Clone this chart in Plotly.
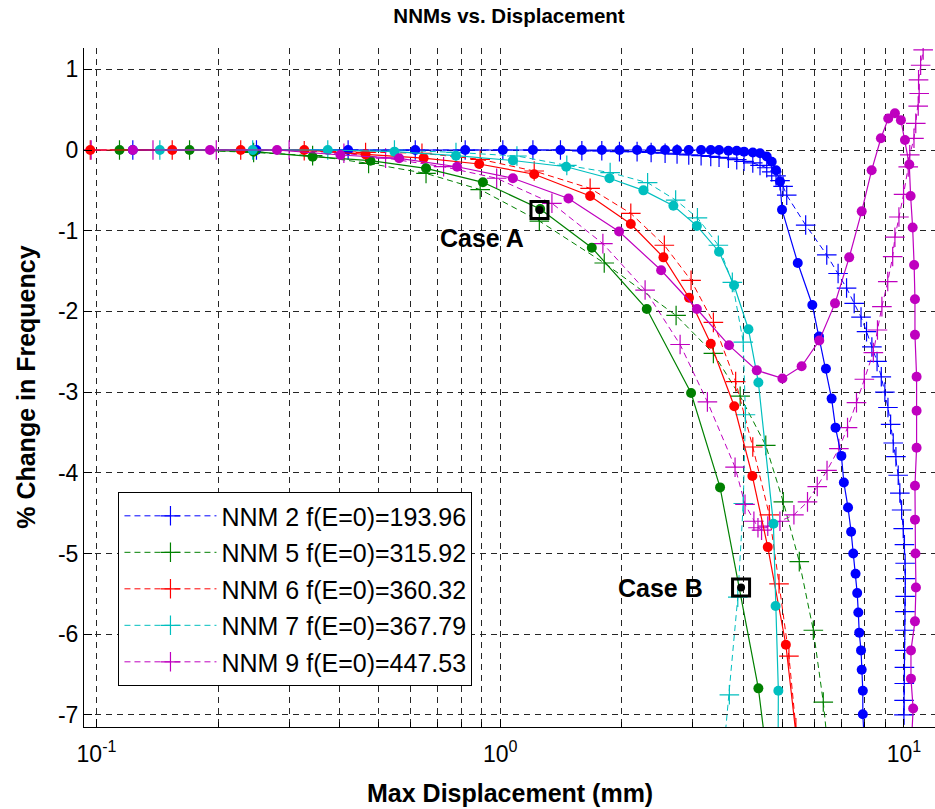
import math
import plotly.graph_objects as go

# ---------------- data ----------------
# NNM 2 (blue)
nnm2_dash_x = [0.123, 0.249, 0.42, 0.616, 0.819, 1.015, 1.205, 1.41, 1.593, 1.785, 1.974, 2.183, 2.365, 2.561,
               2.742, 2.931, 3.145, 3.323, 3.484, 3.674, 3.854, 4.018, 4.223, 4.401, 4.573, 4.705, 4.822, 4.933,
               5.02, 5.125, 5.71, 6.44, 6.87, 7.21, 7.53, 7.83, 8.08, 8.33, 8.58, 8.79, 8.97, 9.13, 9.27, 9.41,
               9.555, 9.68, 9.77, 9.87, 9.96, 10.03, 10.07, 10.08, 10.07, 10.06, 10.05, 10.04, 10.03, 10.02,
               10.01, 10.0, 9.99]
nnm2_dash_y = [0, 0, 0, 0, 0, 0, 0, 0, -0.01, -0.01, -0.02, -0.02, -0.03, -0.04, -0.05, -0.06, -0.07, -0.08,
               -0.09, -0.10, -0.12, -0.14, -0.16, -0.19, -0.22, -0.27, -0.32, -0.38, -0.45, -0.56, -0.93, -1.30,
               -1.53, -1.71, -1.90, -2.07, -2.25, -2.44, -2.62, -2.81, -3.0, -3.19, -3.40, -3.63, -3.80, -4.03,
               -4.25, -4.46, -4.69, -4.89, -5.12, -5.31, -5.53, -5.72, -5.95, -6.20, -6.41, -6.61, -6.82, -7.0,
               -7.3]
nnm2_solid_x = [0.123, 0.249, 0.42, 0.616, 0.819, 1.015, 1.205, 1.41, 1.593, 1.785, 1.974, 2.183, 2.365, 2.561,
                2.742, 2.931, 3.145, 3.323, 3.484, 3.674, 3.854, 4.018, 4.223, 4.401, 4.573, 4.705, 4.822, 4.933,
                4.989, 5.458, 5.93, 6.16, 6.41, 6.62, 6.77, 7.0, 7.1, 7.27, 7.40, 7.49, 7.59, 7.66, 7.71, 7.75,
                7.83, 7.86, 7.91, 7.91, 7.97]
nnm2_solid_y = [0, 0, 0, 0, 0, 0, 0, 0, 0, 0, 0, 0, 0, 0, 0, 0, 0, 0, 0, -0.01, -0.01, -0.02, -0.03, -0.04,
                -0.08, -0.145, -0.25, -0.39, -0.74, -1.40, -1.92, -2.31, -2.71, -3.08, -3.44, -3.79, -4.12,
                -4.43, -4.73, -5.0, -5.25, -5.49, -5.73, -5.98, -6.20, -6.44, -6.70, -6.99, -7.3]

# NNM 5 (green)
nnm5_dash_x = [0.114, 0.17, 0.245, 0.343, 0.472, 0.655, 0.892, 1.25, 1.81, 2.727, 3.373, 3.93, 4.548, 5.026,
               5.506, 5.965, 6.313, 6.45]
nnm5_dash_y = [0, 0, -0.03, -0.07, -0.165, -0.29, -0.49, -0.88, -1.40, -2.05, -2.52, -3.05, -3.66, -4.36, -5.10,
               -5.95, -6.84, -7.3]
nnm5_solid_x = [0.114, 0.17, 0.245, 0.343, 0.477, 0.655, 0.906, 1.256, 1.686, 2.307, 2.97, 3.504, 4.36, 4.52]
nnm5_solid_y = [0, 0, -0.02, -0.083, -0.132, -0.227, -0.40, -0.73, -1.21, -1.97, -3.01, -4.18, -6.67, -7.3]

# NNM 6 (red)
nnm6_dash_x = [0.0965, 0.154, 0.2276, 0.327, 0.464, 0.64, 0.892, 1.214, 1.67, 2.106, 2.55, 2.97, 3.373, 3.83,
               4.223, 4.64, 4.905, 5.19, 5.40, 5.45]
nnm6_dash_y = [0, 0, 0, -0.01, -0.03, -0.04, -0.115, -0.26, -0.475, -0.785, -1.18, -1.615, -2.135, -2.87, -3.68,
               -4.52, -5.375, -6.27, -7.16, -7.4]
nnm6_solid_x = [0.0965, 0.154, 0.2276, 0.327, 0.464, 0.646, 0.887, 1.214, 1.67, 2.106, 2.537, 2.936, 3.323, 3.80,
                4.213, 4.6, 5.10, 5.42]
nnm6_solid_y = [0, 0, 0, 0, -0.054, -0.10, -0.173, -0.30, -0.57, -0.917, -1.33, -1.83, -2.40, -3.175, -4.04,
                -4.92, -6.13, -7.3]

# NNM 7 (cyan)
nnm7_dash_x = [0.1435, 0.2437, 0.374, 0.547, 0.777, 1.10, 1.462, 1.872, 2.318, 2.72, 3.08, 3.47, 3.758, 4.0,
               4.05, 4.0, 3.877, 3.695, 3.6]
nnm7_dash_y = [0, 0, 0, 0, -0.03, -0.074, -0.19, -0.28, -0.405, -0.62, -0.84, -1.18, -1.64, -2.38, -3.28, -4.38,
               -5.54, -6.75, -7.3]
nnm7_solid_x = [0.1435, 0.2437, 0.374, 0.547, 0.777, 1.075, 1.457, 1.865, 2.263, 2.685, 3.07, 3.484, 3.795,
                4.12, 4.36, 4.75, 4.81, 4.886, 4.88]
nnm7_solid_y = [0, 0, 0, -0.02, -0.07, -0.13, -0.207, -0.35, -0.50, -0.69, -0.94, -1.26, -1.675, -2.22, -2.88,
                -4.63, -5.65, -6.70, -7.3]

# NNM 9 (magenta)
nnm9_dash_x = [0.097, 0.138, 0.198, 0.3, 0.41, 0.52, 0.724, 0.98, 1.343, 1.796, 2.285, 2.79, 3.26, 3.817, 4.04,
               4.25, 4.35, 4.44, 4.6, 4.93, 5.34, 5.77, 6.1, 6.45, 6.9, 7.25, 7.63, 7.98, 8.4, 8.6, 8.82, 9.12,
               9.38, 9.5, 9.72, 9.98, 10.25, 10.34, 10.59, 10.7, 10.85, 10.91, 10.87, 11.0, 11.16]
nnm9_dash_y = [0, 0, 0, 0, -0.04, -0.1, -0.207, -0.35, -0.66, -1.16, -1.735, -2.41, -3.12, -3.93, -4.39, -4.6,
               -4.68, -4.71, -4.66, -4.60, -4.52, -4.36, -4.17, -3.97, -3.70, -3.44, -3.13, -2.84, -2.51, -2.23,
               -1.94, -1.63, -1.32, -1.08, -0.83, -0.55, -0.21, -0.06, 0.145, 0.33, 0.545, 0.70, 0.87, 1.05, 1.24]
nnm9_solid_x = [0.123, 0.191, 0.28, 0.402, 0.562, 0.782, 1.075, 1.476, 1.97, 2.504, 3.07, 3.688, 4.32, 5.0, 5.58,
                6.17, 6.75, 7.32, 7.86, 8.32, 8.77, 9.145, 9.5, 9.83, 10.06, 10.31, 10.39, 10.51, 10.6, 10.65,
                10.65, 10.75, 10.75, 10.75, 10.65, 10.65, 10.68, 10.71, 10.65, 10.41, 10.41, 10.54, 10.45]
nnm9_solid_y = [0, 0, 0, -0.062, -0.103, -0.207, -0.35, -0.60, -1.01, -1.49, -1.97, -2.42, -2.73, -2.83, -2.68,
                -2.36, -1.90, -1.33, -0.76, -0.25, 0.145, 0.39, 0.455, 0.37, 0.124, -0.18, -0.57, -0.96, -1.425,
                -1.85, -2.29, -2.81, -3.23, -3.69, -4.16, -4.58, -5.0, -5.42, -5.84, -6.20, -6.55, -6.92, -7.3]

legend_names = ["NNM 2 f(E=0)=193.96", "NNM 5 f(E=0)=315.92", "NNM 6 f(E=0)=360.32",
                "NNM 7 f(E=0)=367.79", "NNM 9 f(E=0)=447.53"]
colors = ["#0000ff", "#008000", "#ff0000", "#00bfbf", "#bf00bf"]

case_labels = ["Case A", "Case B"]
case_x = [1.251, 3.95]
case_y = [-0.743, -5.42]
case_label_x = [0.903, 2.49]
case_label_y = [-1.09, -5.43]

x_tick_vals = [0.1, 1, 10]
x_tick_text = ["10<sup>-1</sup>", "10<sup>0</sup>", "10<sup>1</sup>"]
x_minor_vals = [0.2, 0.3, 0.4, 0.5, 0.6, 0.7, 0.8, 0.9, 2, 3, 4, 5, 6, 7, 8, 9]
y_tick_vals = [-7, -6, -5, -4, -3, -2, -1, 0, 1]
y_tick_text = ["-7", "-6", "-5", "-4", "-3", "-2", "-1", "0", "1"]

dashed = [(nnm2_dash_x, nnm2_dash_y), (nnm5_dash_x, nnm5_dash_y), (nnm6_dash_x, nnm6_dash_y),
          (nnm7_dash_x, nnm7_dash_y), (nnm9_dash_x, nnm9_dash_y)]
solid = [(nnm2_solid_x, nnm2_solid_y), (nnm5_solid_x, nnm5_solid_y), (nnm6_solid_x, nnm6_solid_y),
         (nnm7_solid_x, nnm7_solid_y), (nnm9_solid_x, nnm9_solid_y)]

FONT = "Liberation Sans, Arial, sans-serif"
GRID = "#262626"

fig = go.Figure()
for name, col, (xs, ys) in zip(legend_names, colors, dashed):
    fig.add_trace(go.Scatter(
        x=xs, y=ys, mode="lines+markers", name=name, legendgroup=name,
        line=dict(color=col, width=1, dash="6px,4px"),
        marker=dict(symbol="cross-thin-open", size=14, color=col, line=dict(color=col, width=1.2)),
    ))
for col, (xs, ys) in zip(colors, solid):
    fig.add_trace(go.Scatter(
        x=xs, y=ys, mode="lines+markers", showlegend=False,
        line=dict(color=col, width=1.2),
        marker=dict(symbol="circle", size=10, color=col, line=dict(width=0)),
    ))
fig.add_trace(go.Scatter(x=case_x, y=case_y, mode="markers", showlegend=False,
                         marker=dict(symbol="square-open", size=17, color="black",
                                     line=dict(color="black", width=3))))
fig.add_trace(go.Scatter(x=case_x, y=case_y, mode="markers", showlegend=False,
                         marker=dict(symbol="circle", size=8, color="black")))

# annotation x on a log axis is given in log10 units
for lab, lx, ly in zip(case_labels, case_label_x, case_label_y):
    fig.add_annotation(x=math.log10(lx), y=ly, xref="x", yref="y", text="<b>" + lab + "</b>",
                       showarrow=False, font=dict(family=FONT, size=25, color="black"),
                       xanchor="center", yanchor="middle")

# axis titles as annotations for precise placement
fig.add_annotation(x=0.5, y=-0.097, xref="paper", yref="paper", text="<b>Max Displacement (mm)</b>",
                   showarrow=False, font=dict(family=FONT, size=25, color="black"),
                   xanchor="center", yanchor="middle")
fig.add_annotation(x=-0.069, y=0.5, xref="paper", yref="paper", text="<b>% Change in Frequency</b>",
                   showarrow=False, textangle=-90, font=dict(family=FONT, size=25, color="black"),
                   xanchor="center", yanchor="middle")

fig.update_layout(
    width=935, height=809,
    margin=dict(l=84, r=0, t=48, b=82),
    paper_bgcolor="white", plot_bgcolor="white",
    font=dict(family=FONT, color="black"),
    title=dict(text="<b>NNMs vs. Displacement</b>", x=0.5444, xanchor="center",
               y=0.980, yanchor="middle", font=dict(family=FONT, size=20.5, color="black")),
    showlegend=True,
    legend=dict(x=0.0405, y=0.346, xanchor="left", yanchor="top", bgcolor="white",
                bordercolor="black", borderwidth=1, font=dict(family=FONT, size=25, color="black"),
                tracegroupgap=1, itemwidth=92),
    xaxis=dict(type="log", range=[-1.031, 1.077], tickmode="array", tickvals=x_tick_vals,
               ticktext=x_tick_text, ticks="inside", ticklen=8, tickcolor="black",
               showline=True, linecolor="black", linewidth=1, mirror=False, zeroline=False,
               showgrid=True, gridcolor=GRID, gridwidth=1, griddash="6px,5px",
               ticklabelstandoff=6,
               tickfont=dict(family=FONT, size=23, color="black"),
               minor=dict(tickmode="array", tickvals=x_minor_vals, ticks="inside", ticklen=5,
                          tickcolor="black", showgrid=True, gridcolor=GRID, gridwidth=1,
                          griddash="6px,5px")),
    yaxis=dict(range=[-7.149, 1.264], tickmode="array", tickvals=y_tick_vals, ticktext=y_tick_text,
               ticks="inside", ticklen=8, tickcolor="black", showline=True, linecolor="black",
               linewidth=1, mirror=False, zeroline=False, showgrid=True, gridcolor=GRID, gridwidth=1,
               griddash="6px,5px", tickfont=dict(family=FONT, size=23, color="black")),
)

fig.write_html("out.html")
